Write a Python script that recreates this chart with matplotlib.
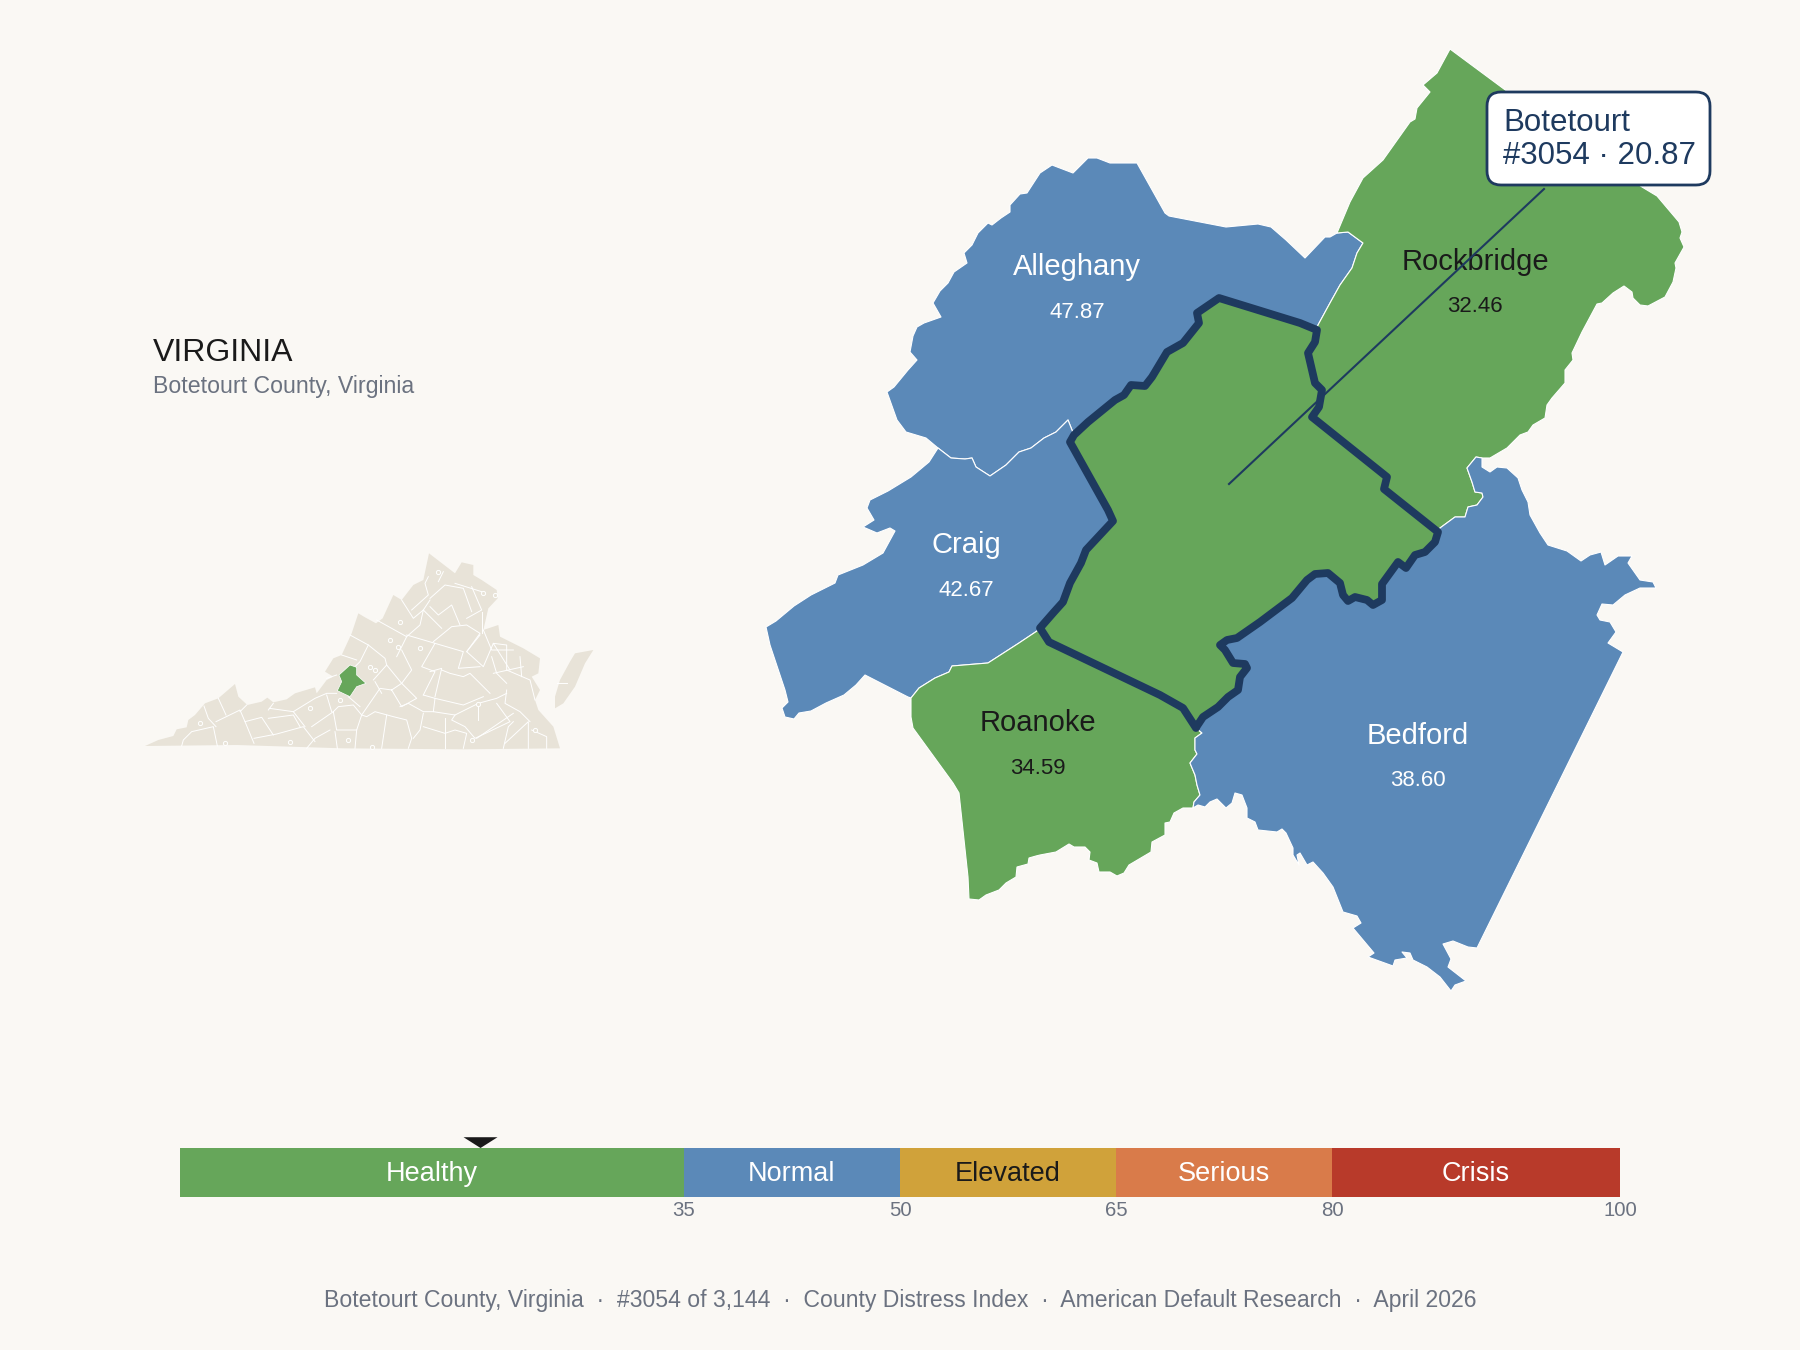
import matplotlib
matplotlib.use("Agg")
import matplotlib.pyplot as plt
from matplotlib.patches import Polygon, FancyBboxPatch

BG = "#FAF8F4"
GREEN = "#66A65A"
BLUE = "#5B89B8"
NAVY = "#1E3A5F"
LAND = "#E8E3D8"
GRAY = "#6B7280"
DARK = "#1A1A1A"

plt.rcParams['font.family'] = ['Liberation Sans', 'DejaVu Sans']

# county outlines are split into shared borders so neighbours line up
alleghany_outer = [(887,392),(894,387),(908,370),(917,360),(910,352),(913,336),(917,327),(924,323),(941,317),(933,303),
                   (940,291),(948,283),(954,272),(967,263),(964,253),(972,245),(978,233),(988,223),(992,225),(1001,218),
                   (1010,212),(1010,205),(1020,194),(1027,193),(1040,173),(1052,165),(1073,173),(1088,158),(1097,158),(1110,163),
                   (1137,163),(1165,213),(1169,216),(1226,227),(1258,224),(1271,227),(1286,240),(1305,258),(1325,237),(1330,237),(1337,233)]
alleghany_rockbridge = [(1337,233),(1348,232),(1363,243),(1357,253),(1352,268),(1340,285),(1330,303),(1318,325),(1317,330)]
alleghany_west = [(926,438),(906,432),(897,420),(887,392)]
craig_alleghany = [(938,448),(951,458),(965,459),(972,458),(976,467),(990,476),(1006,465),(1019,452),(1031,448),(1044,438),
                   (1056,432),(1068,420),(1074,435)]
craig_outer = [(766,627),(776,621),(794,606),(811,595),(835,583),(838,575),(863,565),(883,553),(895,531),(890,528),
               (877,533),(863,527),(874,520),(867,508),(870,500),(888,491),(911,477),(929,462),(938,448)]
craig_south = [(911,698),(908,697),(865,675),(856,685),(844,695),(826,703),(811,711),(799,713),(794,719),(785,717),
               (782,708),(788,702),(785,690),(770,645),(766,627)]
roanoke_craig = [(1040,628),(1037,631),(1019,643),(988,663),(952,666),(949,672),(935,678),(919,688),(911,698)]
roanoke_bedford = [(1196,728),(1202,733),(1195,738),(1195,750),(1197,754),(1190,763),(1195,775),(1197,785),(1200,795),(1194,802),(1193,808)]
roanoke_south = [(1183,808),(1174,813),(1170,822),(1165,823),(1165,835),(1152,842),(1151,852),(1129,865),(1124,873),(1117,876),
                 (1110,872),(1099,872),(1097,863),(1089,860),(1090,852),(1085,847),(1074,847),(1069,844),(1056,852),(1040,855),
                 (1036,856),(1029,858),(1028,864),(1017,867),(1016,877),(1006,883),(999,890),(986,895),(979,900),(969,899),
                 (968,877),(959,793),(953,783),(913,728),(911,717),(911,698)]
rockbridge_outer = [(1337,233),(1350,202),(1363,178),(1383,160),(1410,122),(1415,119),(1417,108),(1430,92),(1423,85),(1437,73),
                    (1450,49),(1508,92),(1642,187),(1657,196),(1679,222),(1682,232),(1680,238),(1684,247),(1675,263),(1676,268),
                    (1673,282),(1665,297),(1648,306),(1640,305),(1633,298),(1632,292),(1624,286),(1613,293),(1602,303),(1597,304),
                    (1582,332),(1572,353),(1573,360),(1565,370),(1565,383),(1552,398),(1547,405),(1545,418),(1533,425),(1528,432),
                    (1520,435),(1507,448),(1490,458),(1482,458)]
rockbridge_bedford = [(1438,532),(1440,528),(1455,517),(1465,517),(1468,507),(1477,505),(1483,497),(1482,493),(1475,492),(1472,482),
                      (1467,468),(1476,457),(1482,458)]
bedford_outer = [(1482,458),(1482,467),(1490,472),(1497,467),(1507,468),(1518,478),(1522,490),(1528,502),(1530,515),(1540,533),
                 (1548,545),(1567,551),(1581,561),(1590,555),(1601,552),(1605,565),(1618,556),(1632,556),(1628,563),(1640,580),
                 (1653,582),(1656,588),(1640,588),(1625,595),(1613,605),(1602,604),(1597,615),(1600,620),(1610,622),(1616,632),
                 (1608,643),(1623,652),(1477,948),(1468,947),(1453,941),(1443,944),(1451,959),(1448,967),(1466,981),(1455,985),
                 (1451,991),(1440,977),(1427,967),(1413,960),(1410,953),(1402,952),(1407,958),(1395,960),(1393,966),(1368,957),
                 (1374,953),(1353,928),(1361,923),(1357,916),(1343,912),(1333,887),(1323,873),(1313,862),(1307,865),(1300,853),
                 (1297,855),(1299,865),(1293,855),(1293,848),(1286,833),(1282,829),(1277,832),(1258,830),(1255,822),(1247,818),
                 (1247,808),(1242,795),(1235,793),(1232,803),(1226,808),(1217,799),(1210,802),(1205,807),(1198,805),(1193,808)]
botetourt_north = [(1219,298),(1300,323),(1317,330)]
botetourt_rockbridge = [(1317,330),(1315,342),(1308,353),(1315,383),(1322,390),(1319,407),(1312,417),(1387,477),(1384,489),(1438,532)]
botetourt_bedford = [(1438,532),(1435,542),(1425,552),(1415,555),(1406,568),(1398,562),(1382,584),(1382,600),(1373,605),(1367,600),
                     (1355,597),(1348,601),(1343,595),(1340,583),(1328,573),(1315,574),(1307,580),(1292,598),(1260,622),(1237,638),
                     (1227,640),(1220,645),(1225,650),(1233,663),(1245,664),(1247,668),(1240,677),(1238,690),(1228,697),(1218,707),
                     (1203,717),(1197,726),(1196,728)]
botetourt_roanoke = [(1196,728),(1183,708),(1160,695),(1049,642),(1040,628)]
botetourt_craig = [(1040,628),(1054,612),(1063,602),(1070,583),(1081,563),(1086,550),(1113,521),(1108,510),(1070,442),(1074,435)]
botetourt_alleghany = [(1074,435),(1088,422),(1115,400),(1124,395),(1131,385),(1145,386),(1152,377),(1167,352),(1183,343),(1199,323),
                       (1197,313),(1219,298)]

# state inset, in its own little frame
state_outline = [(45,648),(85,630),(130,618),(140,598),(170,592),(175,570),(195,555),(225,520),(265,505),(315,462),
                 (325,500),(352,525),(395,515),(412,503),(430,517),(470,508),(495,490),(555,472),(560,490),(590,450),
                 (610,440),(585,425),(610,385),(635,375),(665,310),(685,250),(705,262),(738,280),(758,265),(790,195),
                 (815,210),(850,165),(880,150),(897,70),(975,130),(995,97),(1030,105),(1030,135),(1055,150),(1100,180),
                 (1103,205),(1075,235),(1060,300),(1105,285),(1110,320),(1150,340),(1180,355),(1230,385),(1225,430),(1205,440),
                 (1230,480),(1215,510),(1225,540),(1270,590),(1290,655),(1000,658),(640,655),(320,645)]
eastern_shore = [(1390,360),(1335,370),(1320,395),(1290,450),(1275,500),(1275,535),(1300,520),(1335,470),(1365,400)]
state_botetourt = [(660,405),(680,412),(680,435),(708,460),(680,470),(660,500),(622,482),(635,455),(627,435)]
state_county_lines = [
    [(155,648),(160,630),(185,605),(250,590),(262,648)],
    [(222,528),(235,565),(258,590)],
    [(265,505),(288,555)],
    [(258,575),(330,540),(345,575),(395,562),(430,615)],
    [(330,545),(350,525)],
    [(345,575),(372,640)],
    [(372,625),(440,612),(520,590),(555,635)],
    [(415,540),(430,520)],
    [(418,535),(490,545),(555,505),(590,490),(620,490)],
    [(490,545),(525,590)],
    [(415,565),(490,555),(510,590)],
    [(590,495),(605,545)],
    [(545,590),(610,545),(625,530),(670,525),(695,555),(680,600),(620,600),(610,545)],
    [(530,655),(555,625),(600,600)],
    [(615,605),(622,655)],
    [(680,600),(675,655)],
    [(695,555),(710,560),(735,545),(790,560),(830,570),(845,625),(835,655)],
    [(770,555),(755,655)],
    [(695,555),(750,475),(785,480),(815,530),(860,505),(815,460),(785,480)],
    [(735,455),(755,490)],
    [(730,450),(770,405),(815,460)],
    [(770,405),(765,385),(715,345),(660,315)],
    [(800,380),(830,320),(740,270)],
    [(715,345),(690,395),(675,410)],
    [(635,375),(680,390)],
    [(620,435),(590,445)],
    [(655,500),(690,530)],
    [(815,360),(845,420),(815,460)],
    [(830,320),(870,285),(880,240),(900,210)],
    [(830,315),(915,340),(875,410),(915,425),(880,495)],
    [(915,340),(1000,365),(985,415),(1050,410)],
    [(910,335),(965,290),(1010,285),(1050,310),(1010,365)],
    [(880,240),(935,295)],
    [(900,230),(925,255),(965,225),(990,285)],
    [(900,205),(945,165),(1000,175),(1025,245)],
    [(815,210),(850,265),(880,240)],
    [(845,240),(895,195),(885,160),(895,140)],
    [(925,155),(940,125)],
    [(975,160),(1055,185)],
    [(1010,265),(1055,240),(1025,170)],
    [(1055,310),(1055,245)],
    [(1060,300),(1085,360),(1150,360)],
    [(1050,315),(1010,365),(1060,410),(1090,340),(1140,420)],
    [(1090,430),(1180,410)],
    [(900,425),(935,415),(915,500)],
    [(880,495),(915,505),(1000,525),(1060,500)],
    [(935,420),(960,430),(1000,440),(1020,430),(1040,450),(1060,470),(1080,490)],
    [(810,530),(835,520),(880,545),(910,545)],
    [(880,550),(870,600),(850,625)],
    [(915,505),(910,545),(975,555),(1045,520),(1100,505),(1130,490)],
    [(945,565),(945,655)],
    [(1000,655),(1010,610),(975,600),(945,610),(880,590)],
    [(975,555),(965,570),(1005,590),(1035,625),(1140,575),(1100,520)],
    [(1045,520),(1045,570)],
    [(1040,625),(1150,550)],
    [(1120,655),(1135,590),(1150,575)],
    [(1125,640),(1195,575),(1195,655)],
    [(1205,600),(1250,620),(1250,655)],
    [(1130,480),(1125,520),(1170,545),(1200,575)],
    [(1090,340),(1130,345),(1130,420),(1200,450),(1215,510)],
    [(1085,380),(1100,430),(1130,460)],
    [(1170,380),(1175,440)],
    [(1280,460),(1310,460)],
]
state_cities = [(810,275),(780,330),(805,350),(870,355),(925,125),(1060,190),(1095,195),(630,510),(210,580),(285,640),
                (480,635),(655,630),(725,650),(1025,630),(1045,522),(1215,600),(540,535),(720,410),(735,420)]

county_names = ["Alleghany", "Rockbridge", "Craig", "Roanoke", "Bedford"]
county_scores = [47.87, 32.46, 42.67, 34.59, 38.60]
focus_name = "Botetourt"
focus_rank = 3054
focus_score = 20.87

band_names = ["Healthy", "Normal", "Elevated", "Serious", "Crisis"]
band_edges = [0, 35, 50, 65, 80, 100]
band_colors = [GREEN, BLUE, "#D0A23A", "#D97B4A", "#B83A2A"]
band_text = ["white", "white", DARK, "white", "white"]

fig = plt.figure(figsize=(18, 13.5), dpi=100, facecolor=BG)
ax = fig.add_axes([0, 0, 1, 1])
ax.set_xlim(0, 1800)
ax.set_ylim(1350, 0)
ax.axis('off')

rev = lambda seg: seg[::-1]
shapes = {
    "Alleghany": alleghany_outer + alleghany_rockbridge + rev(botetourt_north) + rev(botetourt_alleghany) + rev(craig_alleghany) + alleghany_west,
    "Rockbridge": rev(alleghany_rockbridge) + rockbridge_outer + rev(rockbridge_bedford) + rev(botetourt_rockbridge),
    "Craig": craig_outer + craig_alleghany + rev(botetourt_craig) + roanoke_craig + craig_south,
    "Roanoke": rev(roanoke_craig) + rev(botetourt_roanoke) + roanoke_bedford + roanoke_south,
    "Bedford": rockbridge_bedford + bedford_outer + rev(roanoke_bedford) + rev(botetourt_bedford),
}
botetourt = botetourt_north + botetourt_rockbridge + botetourt_bedford + botetourt_roanoke + botetourt_craig + botetourt_alleghany

label_xy = {"Alleghany": (1077, 267), "Rockbridge": (1475, 262), "Craig": (966, 545), "Roanoke": (1038, 723), "Bedford": (1418, 736)}

for name, score in zip(county_names, county_scores):
    color = GREEN if score < 35 else BLUE
    ax.add_patch(Polygon(shapes[name], closed=True, facecolor=color, edgecolor='white', linewidth=0.8, joinstyle='round', zorder=1))
    txt = DARK if score < 35 else 'white'
    x, y = label_xy[name]
    ax.text(x, y, name, color=txt, fontsize=21, ha='center', va='center', zorder=5)
    ax.text(x, y + 45, f"{score:.2f}", color=txt, fontsize=16, ha='center', va='center', zorder=5)

ax.add_patch(Polygon(botetourt, closed=True, facecolor=GREEN, edgecolor=NAVY, linewidth=5.6, joinstyle='round', zorder=2))

# callout
ax.plot([1229, 1544], [484, 189], color=NAVY, linewidth=1.5, zorder=6)
ax.add_patch(FancyBboxPatch((1499, 104), 199, 69, boxstyle="round,pad=12,rounding_size=14", facecolor='white',
                            edgecolor=NAVY, linewidth=2, zorder=7))
ax.text(1503, 123, focus_name, color=NAVY, fontsize=22.5, ha='left', va='center', zorder=8)
ax.text(1503, 156, f"#{focus_rank} · {focus_score:.2f}", color=NAVY, fontsize=22.5, ha='left', va='center', zorder=8)

# title block
ax.text(153, 353, "VIRGINIA", color=DARK, fontsize=23, ha='left', va='center')
ax.text(153, 386, "Botetourt County, Virginia", color=GRAY, fontsize=16.7, ha='left', va='center')

# footer
footer = "Botetourt County, Virginia  ·  #3054 of 3,144  ·  County Distress Index  ·  American Default Research  ·  April 2026"
ax.text(900, 1301, footer, color=GRAY, fontsize=16.55, ha='center', va='center')

# state inset
ax_state = fig.add_axes([130 / 1800, 1 - 770 / 1350, 480 / 1800, 240 / 1350])
ax_state.set_xlim(0, 1440)
ax_state.set_ylim(720, 0)
ax_state.axis('off')
ax_state.add_patch(Polygon(state_outline, closed=True, facecolor=LAND, edgecolor='none'))
ax_state.add_patch(Polygon(eastern_shore, closed=True, facecolor=LAND, edgecolor='none'))
for line in state_county_lines:
    ax_state.plot([p[0] for p in line], [p[1] for p in line], color='white', linewidth=0.7, solid_joinstyle='round')
ax_state.scatter([p[0] for p in state_cities], [p[1] for p in state_cities], s=9, facecolor=LAND, edgecolor='white', linewidth=0.7, zorder=3)
ax_state.add_patch(Polygon(state_botetourt, closed=True, facecolor=GREEN, edgecolor='white', linewidth=0.5, zorder=4))

# scale bar
ax_bar = fig.add_axes([180 / 1800, 1 - 1197 / 1350, 1440 / 1800, 49 / 1350])
ax_bar.set_xlim(0, 100)
ax_bar.set_ylim(0, 1)
ax_bar.axis('off')
for i, name in enumerate(band_names):
    lo, hi = band_edges[i], band_edges[i + 1]
    ax_bar.barh(0.5, hi - lo, left=lo, height=1, color=band_colors[i], linewidth=0)
    ax_bar.text((lo + hi) / 2, 0.47, name, color=band_text[i], fontsize=19.5, ha='center', va='center')
for edge in band_edges[1:]:
    ax_bar.text(edge, -0.27, str(edge), color=GRAY, fontsize=14.7, ha='center', va='center', clip_on=False)
ax_bar.fill([focus_score - 1.18, focus_score + 1.18, focus_score], [1.22, 1.22, 1.0], color=DARK, clip_on=False, linewidth=0)

fig.savefig("out.png", dpi=100, facecolor=BG)
